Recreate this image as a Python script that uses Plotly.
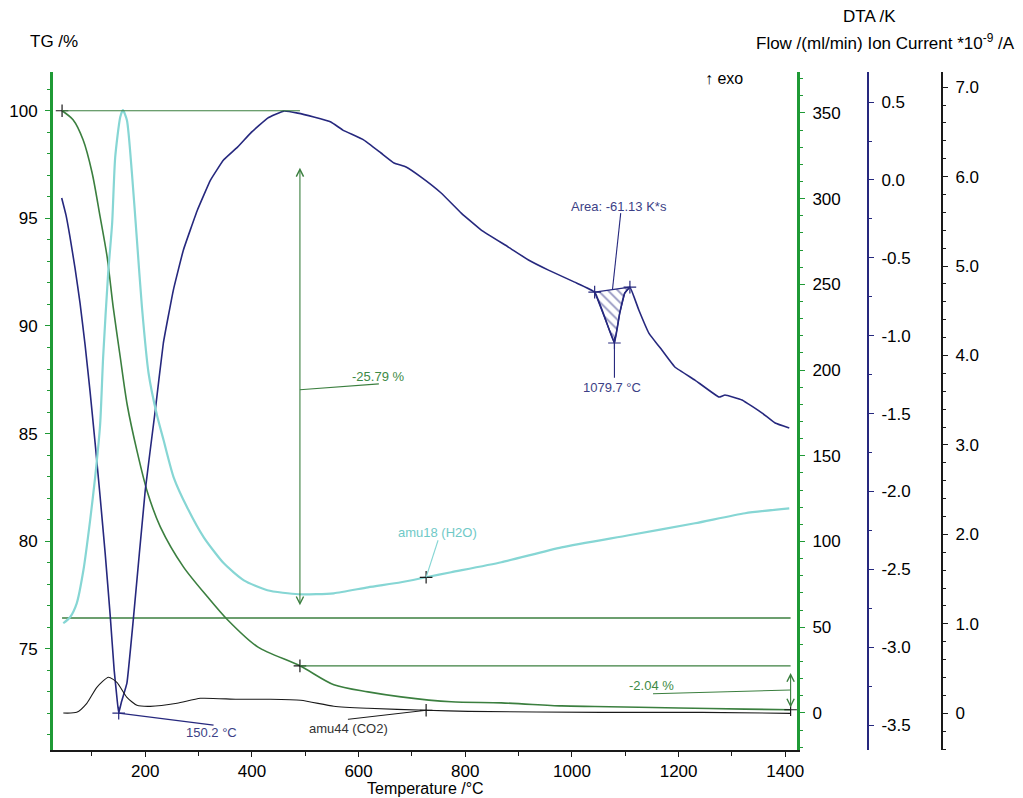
import numpy as np
import plotly.graph_objects as go

# ---------------- data ----------------
# TG curve (%), left axis
tg_temp = [44, 64.6, 83.4, 100.3, 115.4, 128.5, 139.8, 153, 166.1, 184.9, 203.8, 228.2,
           271.5, 316.6, 354.2, 410.7, 490, 553.6, 617.5, 679.6, 773.6, 867.7, 980.5,
           1042.6, 1200.6, 1324.7, 1410]
tg_val = [100, 99.58, 98.65, 97.12, 95.07, 93.21, 90.89, 88.57, 86.34, 84.15, 82.3, 80.67,
          78.81, 77.42, 76.35, 75.09, 74.21, 73.33, 73.0, 72.77, 72.54, 72.49, 72.35,
          72.32, 72.25, 72.2, 72.17]

# DTA curve (K)
dta_temp = [43.3, 51.4, 58.9, 68.3, 77.7, 87.2, 96.6, 106, 115.4, 124.8, 134.2, 141.7, 147.3,
            150.2, 155.3, 165.6, 178, 200, 218.8,
            233.9, 252.7, 271.5, 297.8, 322.3, 346.7, 373, 397.5, 429.5, 459.6, 485.9,
            516, 548, 570.5, 610, 642, 666.4, 689, 717.2, 754.8, 792.5, 830, 880.9, 918.5,
            956, 1005, 1042.6, 1061.4, 1079.7, 1089.6, 1099, 1108.7, 1125.4, 1144.2,
            1168.6, 1193, 1230.7, 1275.8, 1287, 1319, 1356.7, 1381, 1407.5]
dta_val = [-0.116, -0.226, -0.367, -0.566, -0.791, -1.06, -1.362, -1.69, -2.036, -2.396,
           -2.794, -3.147, -3.339, -3.423, -3.352, -3.23,
           -2.807, -1.991, -1.478, -1.047, -0.707, -0.45, -0.193, -0.001, 0.128, 0.211,
           0.301, 0.397, 0.442, 0.429, 0.404, 0.372, 0.32, 0.256, 0.173, 0.109, 0.083,
           0.018, -0.084, -0.213, -0.322, -0.431, -0.514, -0.579, -0.656, -0.72, -0.88,
           -1.047, -0.855, -0.726, -0.688, -0.835, -0.983, -1.092, -1.201, -1.285,
           -1.394, -1.381, -1.413, -1.497, -1.561, -1.593]

# Ion current amu18 (H2O), *1e-9 A
h2o_temp = [46.3, 58.9, 71.5, 84, 96.6, 106, 115.4, 121, 130.4, 137.9, 143.6, 153, 158.1,
            165.6, 175, 184.4, 193.8, 206.2, 222, 234.4, 253.2, 278.4, 309.7, 347.3,
            384.9, 428.9, 487.8, 553.6, 617.5, 679.6, 726.6, 773.6, 867.7, 980.5,
            1106.5, 1230.7, 1324.7, 1407.5]
h2o_val = [1.007, 1.074, 1.23, 1.599, 2.158, 2.639, 3.232, 3.981, 4.92, 5.479, 6.217, 6.665,
           6.743, 6.631, 6.038, 5.289, 4.54, 3.802, 3.332, 3.053, 2.639, 2.304, 1.968,
           1.677, 1.487, 1.376, 1.331, 1.342, 1.409, 1.465, 1.521, 1.577, 1.689, 1.856,
           1.991, 2.125, 2.237, 2.292]

# Ion current amu44 (CO2), *1e-9 A
co2_temp = [46.3, 71.5, 90.4, 109.2, 131, 146.8, 165.6, 184.4, 209.4, 259.6, 303.4, 372.5,
            429.5, 491.5, 553.6, 617.5, 726.6, 805.6, 1055.8, 1243.8, 1409.4]
co2_val = [0.003, 0.011, 0.112, 0.291, 0.403, 0.347, 0.179, 0.09, 0.078, 0.112, 0.168,
           0.157, 0.157, 0.146, 0.079, 0.056, 0.034, 0.022, 0.011, 0.011, 0.0]

# Purge gas flow (ml/min)
flow_temp = [44, 400, 800, 1200, 1410]
flow_val = [55.4, 55.4, 55.4, 55.4, 55.4]

# Evaluation results
step_temps = [44, 490, 1410]          # TG step evaluation limits
step_levels = [100, 74.21, 72.17]     # TG levels (%)
step_labels = ["-25.79 %", "-2.04 %"]
dta_peak_temps = [150.2, 1079.7]
dta_peak_vals = [-3.423, -1.047]
dta_peak_labels = ["150.2 °C", "1079.7 °C"]
area_limits = [1042.6, 1108.7]
area_label = "Area: -61.13 K*s"
ms_mark_temp = [726.6]
h2o_mark_val = [1.521]
co2_mark_val = [0.034]

# ---------------- styling ----------------
FONT = "Liberation Sans, Arial, sans-serif"
GREEN_AX = "#1f9a35"
GREEN = "#3b7f3f"
GREEN_TXT = "#3d8a45"
NAVY = "#26287e"
NAVY_TXT = "#3c3f86"
CYAN = "#86d6d4"
BLACK = "#1a1a1a"

OFF = 8                      # default page body margin
W, H = 1023 - OFF, 798 - OFF
L, R, T, B = 53 - OFF, 40, 72 - OFF, 48
pw = W - L - R
ph = H - T - B
def px(xpix):                # reference-picture pixel -> paper fraction
    return (xpix - OFF - L) / pw
def py(ypix):
    return (H - B - (ypix - OFF)) / ph

fig = go.Figure()

fig.add_trace(go.Scatter(x=flow_temp, y=flow_val, mode="lines", yaxis="y2",
                         line=dict(color=GREEN, width=1.3), showlegend=False))
fig.add_trace(go.Scatter(x=co2_temp, y=co2_val, mode="lines", yaxis="y4",
                         line=dict(color=BLACK, width=1.1, shape="spline", smoothing=0.6),
                         showlegend=False))
fig.add_trace(go.Scatter(x=h2o_temp, y=h2o_val, mode="lines", yaxis="y4",
                         line=dict(color=CYAN, width=2.2, shape="spline", smoothing=0.6),
                         showlegend=False))
fig.add_trace(go.Scatter(x=tg_temp, y=tg_val, mode="lines", yaxis="y",
                         line=dict(color=GREEN, width=1.6, shape="spline", smoothing=0.8),
                         showlegend=False))
fig.add_trace(go.Scatter(x=dta_temp, y=dta_val, mode="lines", yaxis="y3",
                         line=dict(color=NAVY, width=1.6, shape="spline", smoothing=0.3),
                         showlegend=False))

# hatched DTA peak area
dt = np.array(dta_temp)
dv = np.array(dta_val)
mask = (dt >= area_limits[0]) & (dt <= area_limits[1])
ax_ = list(dt[mask]) + [dt[mask][0]]
ay_ = list(dv[mask]) + [dv[mask][0]]
fig.add_trace(go.Scatter(x=ax_, y=ay_, mode="lines", yaxis="y3", fill="toself",
                         fillcolor="rgba(0,0,0,0)",
                         fillpattern=dict(shape="\\", fgcolor=NAVY, bgcolor="rgba(0,0,0,0)",
                                          size=7, solidity=0.25),
                         line=dict(color=NAVY, width=1.3), showlegend=False))

# cross markers
cross = dict(symbol="cross-thin", size=9, line=dict(width=1.2, color=BLACK))
fig.add_trace(go.Scatter(x=step_temps, y=step_levels, mode="markers", yaxis="y",
                         marker=cross, showlegend=False))
fig.add_trace(go.Scatter(x=[dta_peak_temps[0], area_limits[0], dta_peak_temps[1], area_limits[1]],
                         y=[dta_peak_vals[0], float(dv[dt == area_limits[0]][0]), dta_peak_vals[1],
                            float(dv[dt == area_limits[1]][0])],
                         mode="markers", yaxis="y3",
                         marker=dict(symbol="cross-thin", size=9, line=dict(width=1.2, color=NAVY)),
                         showlegend=False))
fig.add_trace(go.Scatter(x=ms_mark_temp * 2, y=h2o_mark_val + co2_mark_val, mode="markers",
                         yaxis="y4", marker=cross, showlegend=False))

# ---------------- shapes / evaluation annotations ----------------
shapes = []
shapes.append(dict(type="line", xref="x", yref="y", x0=step_temps[0], x1=step_temps[1],
                   y0=step_levels[0], y1=step_levels[0], line=dict(color=GREEN, width=1.2)))
shapes.append(dict(type="line", xref="x", yref="y", x0=step_temps[1], x1=step_temps[2],
                   y0=step_levels[1], y1=step_levels[1], line=dict(color=GREEN, width=1.2)))
shapes.append(dict(type="line", xref="x", yref="y", x0=step_temps[1], x1=638, y0=87.04, y1=87.31,
                   line=dict(color=GREEN, width=1.1)))
shapes.append(dict(type="line", xref="x", yref="y", x0=1152, x1=step_temps[2], y0=72.91, y1=73.09,
                   line=dict(color=GREEN, width=1.1)))
shapes.append(dict(type="line", xref="x", yref="y3", x0=dta_peak_temps[0], x1=328,
                   y0=dta_peak_vals[0], y1=-3.5, line=dict(color=NAVY, width=1.1)))
shapes.append(dict(type="line", xref="x", yref="y3", x0=dta_peak_temps[1], x1=dta_peak_temps[1],
                   y0=dta_peak_vals[1], y1=-1.27, line=dict(color=NAVY, width=1.1)))
shapes.append(dict(type="line", xref="x", yref="y3", x0=1076, x1=1091.5, y0=-0.704, y1=-0.213,
                   line=dict(color=NAVY, width=1.1)))
shapes.append(dict(type="line", xref="x", yref="y4", x0=ms_mark_temp[0], x1=749,
                   y0=h2o_mark_val[0], y1=1.935, line=dict(color=CYAN, width=1.1)))
shapes.append(dict(type="line", xref="x", yref="y4", x0=ms_mark_temp[0], x1=580,
                   y0=co2_mark_val[0], y1=-0.067, line=dict(color=BLACK, width=1.0)))

ann = []
ann.append(dict(xref="x", yref="y", axref="x", ayref="y", x=step_temps[1], y=97.35,
                ax=step_temps[1], ay=76.95, showarrow=True, arrowhead=5, arrowside="end+start",
                startarrowhead=5, arrowsize=1.3, arrowwidth=1.1, arrowcolor=GREEN, text=""))
ann.append(dict(xref="x", yref="y", axref="x", ayref="y", x=1410, y=73.88,
                ax=1410, ay=72.2, showarrow=True, arrowhead=5, arrowside="end+start",
                startarrowhead=5, arrowsize=1.3, arrowwidth=1.1, arrowcolor=GREEN, text=""))

small = dict(family=FONT, size=13)
ann.append(dict(xref="x", yref="y", x=637, y=87.64, text=step_labels[0], showarrow=False,
                font=dict(small, color=GREEN_TXT)))
ann.append(dict(xref="x", yref="y", x=1150, y=73.3, text=step_labels[1], showarrow=False,
                font=dict(small, color=GREEN_TXT)))
ann.append(dict(xref="x", yref="y3", x=324, y=-3.55, text=dta_peak_labels[0], showarrow=False,
                font=dict(small, color=NAVY_TXT)))
ann.append(dict(xref="x", yref="y3", x=1076, y=-1.335, text=dta_peak_labels[1], showarrow=False,
                font=dict(small, color=NAVY_TXT)))
ann.append(dict(xref="x", yref="y3", x=1089, y=-0.172, text=area_label, showarrow=False,
                font=dict(small, color=NAVY_TXT)))
ann.append(dict(xref="x", yref="y4", x=748, y=2.02, text="amu18 (H2O)", showarrow=False,
                font=dict(small, color="#6fc9c7")))
ann.append(dict(xref="x", yref="y4", x=581, y=-0.17, text="amu44 (CO2)", showarrow=False,
                font=dict(small, color="#333333")))

big = dict(family=FONT, size=17, color="black")
ann.append(dict(xref="paper", yref="paper", x=px(28), y=py(42), xanchor="left", yanchor="middle",
                text="TG /%", showarrow=False, font=big))
ann.append(dict(xref="paper", yref="paper", x=px(869), y=py(17), xanchor="center", yanchor="middle",
                text="DTA /K", showarrow=False, font=big))
ann.append(dict(xref="paper", yref="paper", x=px(1017), y=py(42), xanchor="right", yanchor="middle",
                text="Flow /(ml/min) Ion Current *10<sup>-9</sup> /A", showarrow=False, font=big))
ann.append(dict(xref="paper", yref="paper", x=px(703), y=py(78), xanchor="left", yanchor="middle",
                text="↑ exo", showarrow=False, font=dict(family=FONT, size=16, color="black")))
ann.append(dict(xref="paper", yref="paper", x=px(425), y=py(788), xanchor="center", yanchor="middle",
                text="Temperature /°C", showarrow=False, font=dict(family=FONT, size=16, color="black")))

tickfont = dict(family=FONT, size=17, color="black")

fig.update_layout(
    width=W, height=H, autosize=False, margin=dict(l=L, r=R, t=T, b=B, autoexpand=False),
    paper_bgcolor="white", plot_bgcolor="white",
    font=dict(family=FONT),
    shapes=shapes, annotations=ann, showlegend=False,
    xaxis=dict(domain=[0, px(797)], range=[27, 1422], showgrid=False, zeroline=False,
               automargin=False,
               showline=True, linecolor=BLACK, linewidth=2, ticks="outside", ticklen=5,
               tickcolor=BLACK, tickvals=[200, 400, 600, 800, 1000, 1200, 1400],
               minor=dict(dtick=100, tick0=0, ticks="outside", ticklen=4, tickcolor=BLACK),
               tickfont=tickfont, ticklabelstandoff=0),
    yaxis=dict(range=[70.3, 101.8], showgrid=False, zeroline=False, showline=True, automargin=False,
               linecolor=GREEN_AX, linewidth=3, ticks="outside", ticklen=5, tickcolor=GREEN_AX,
               tickvals=[75, 80, 85, 90, 95, 100],
               minor=dict(dtick=1, tick0=0, ticks="outside", ticklen=3, tickcolor=GREEN_AX),
               tickfont=tickfont, ticklabelstandoff=4),
    yaxis2=dict(overlaying="y", side="right", anchor="x", range=[-21.6, 373.9], automargin=False,
                showgrid=False, zeroline=False, showline=True, linecolor=GREEN_AX, linewidth=3,
                ticks="outside", ticklen=5, tickcolor=GREEN_AX,
                tickvals=[0, 50, 100, 150, 200, 250, 300, 350],
                minor=dict(dtick=10, tick0=0, ticks="outside", ticklen=3, tickcolor=GREEN_AX),
                tickfont=tickfont, ticklabelstandoff=4),
    yaxis3=dict(overlaying="y", side="right", anchor="free", position=px(868), automargin=False,
                range=[-3.66, 0.693], showgrid=False, zeroline=False, showline=True,
                linecolor=NAVY, linewidth=2, ticks="outside", ticklen=5, tickcolor=NAVY,
                tickvals=[-3.5, -3.0, -2.5, -2.0, -1.5, -1.0, -0.5, 0.0, 0.5],
                ticktext=["-3.5", "-3.0", "-2.5", "-2.0", "-1.5", "-1.0", "-0.5", "0.0", "0.5"],
                minor=dict(dtick=0.25, tick0=0, ticks="outside", ticklen=3, tickcolor=NAVY),
                tickfont=tickfont, ticklabelstandoff=4),
    yaxis4=dict(overlaying="y", side="right", anchor="free", position=px(942), automargin=False,
                range=[-0.41, 7.17], showgrid=False, zeroline=False, showline=True,
                linecolor=BLACK, linewidth=2, ticks="outside", ticklen=5, tickcolor=BLACK,
                tickvals=[0, 1, 2, 3, 4, 5, 6, 7],
                ticktext=["0", "1.0", "2.0", "3.0", "4.0", "5.0", "6.0", "7.0"],
                minor=dict(dtick=0.2, tick0=0, ticks="outside", ticklen=3, tickcolor=BLACK),
                tickfont=tickfont, ticklabelstandoff=4),
)

fig.write_html("out.html")
